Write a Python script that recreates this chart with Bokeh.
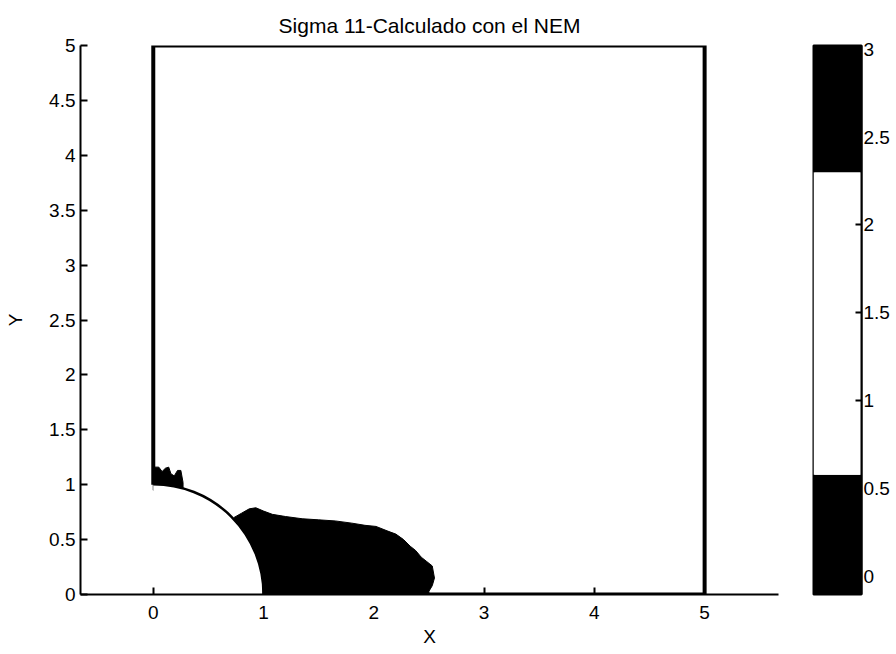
import math
from bokeh.plotting import figure
from bokeh.models import Range1d, FixedTicker
from bokeh.layouts import row
from bokeh.embed import file_html
from bokeh.resources import INLINE

# ---------------- data ----------------
title_text = "Sigma 11-Calculado con el NEM"
x_label = "X"
y_label = "Y"

x_ticks = [0, 1, 2, 3, 4, 5]
x_tick_labels = ["0", "1", "2", "3", "4", "5"]
y_ticks = [0, 0.5, 1, 1.5, 2, 2.5, 3, 3.5, 4, 4.5, 5]
y_tick_labels = ["0", "0.5", "1", "1.5", "2", "2.5", "3", "3.5", "4", "4.5", "5"]
cb_ticks = [0, 0.5, 1, 1.5, 2, 2.5, 3]
cb_tick_labels = ["0", "0.5", "1", "1.5", "2", "2.5", "3"]

# plate outline (quarter plate with a circular hole of radius 1)
plate_x = [0, 0, 5, 5, 1]
plate_y = [1, 5, 5, 0, 0]
hole_radius = 1.0

# region where sigma11 is low (black band 0 .. 0.58)
low_x = [0.90, 0.85, 0.70, 0.73, 0.80, 0.87, 0.93, 1.00, 1.08, 1.20, 1.35,
         1.50, 1.65, 1.80, 1.92, 2.02, 2.12, 2.20, 2.27, 2.33, 2.38, 2.43,
         2.48, 2.53, 2.55, 2.53, 2.50, 2.50]
low_y = [0.00, 0.30, 0.60, 0.70, 0.74, 0.78, 0.79, 0.76, 0.73, 0.71, 0.69,
         0.68, 0.67, 0.65, 0.63, 0.62, 0.58, 0.55, 0.50, 0.44, 0.40, 0.34,
         0.30, 0.26, 0.15, 0.08, 0.03, 0.00]

# region where sigma11 is high (black band 2.3 .. 3)
high_x = [0.00, 0.00, 0.05, 0.08, 0.11, 0.14, 0.16, 0.19, 0.22, 0.25, 0.27, 0.27]
high_y = [0.95, 1.16, 1.16, 1.12, 1.15, 1.16, 1.10, 1.08, 1.13, 1.13, 1.02, 0.90]

# colour bar bands
band_lo = [-0.1, 0.58, 2.3]
band_hi = [0.58, 2.3, 3.02]
band_color = ["black", "white", "black"]

FONT = "Liberation Sans"

# ---------------- main plot ----------------
p = figure(width=800, height=654, x_range=Range1d(-0.66, 5.67), y_range=Range1d(0, 5),
           output_backend="svg", toolbar_location=None, title=title_text,
           min_border_left=80, min_border_right=22, min_border_top=45, min_border_bottom=60)
p.grid.visible = False
p.outline_line_color = None
p.background_fill_color = "white"
p.border_fill_color = "white"

p.title.text_font = FONT
p.title.text_font_size = "21px"
p.title.text_font_style = "normal"
p.title.text_color = "black"
p.title.align = "center"
p.title.standoff = 18

p.patch(low_x, low_y, fill_color="black", line_color="black", line_width=1)
p.patch(high_x, high_y, fill_color="black", line_color="black", line_width=1)
p.wedge(x=0, y=0, radius=hole_radius, start_angle=0, end_angle=math.pi / 2,
        fill_color="white", line_color=None)
p.arc(x=0, y=0, radius=hole_radius, start_angle=0, end_angle=math.pi / 2,
      line_color="black", line_width=2.5)
p.line(plate_x, plate_y, line_color="black", line_width=4, line_join="miter")

for ax in (p.xaxis[0], p.yaxis[0]):
    ax.axis_line_width = 2
    ax.major_tick_line_width = 2
    ax.major_tick_in = 7
    ax.major_tick_out = 0
    ax.minor_tick_line_color = None
    ax.major_label_text_font = FONT
    ax.major_label_text_font_size = "19px"
    ax.major_label_text_color = "black"
    ax.axis_label_text_font = FONT
    ax.axis_label_text_font_size = "19px"
    ax.axis_label_text_font_style = "normal"
    ax.axis_label_text_color = "black"

p.xaxis.ticker = FixedTicker(ticks=x_ticks)
p.xaxis.major_label_overrides = dict(zip(x_ticks, x_tick_labels))
p.xaxis.axis_label = x_label
p.xaxis.major_label_standoff = 11
p.xaxis.axis_label_standoff = 4

p.yaxis.ticker = FixedTicker(ticks=y_ticks)
p.yaxis.major_label_overrides = dict(zip(y_ticks, y_tick_labels))
p.yaxis.axis_label = y_label
p.yaxis.major_label_standoff = 5
p.yaxis.axis_label_standoff = 20

# ---------------- colour bar ----------------
cb = figure(width=96, height=654, x_range=Range1d(0, 1), y_range=Range1d(-0.1, 3.02),
            output_backend="svg", toolbar_location=None, y_axis_location="right",
            min_border_left=13, min_border_right=35, min_border_top=43, min_border_bottom=55)
cb.grid.visible = False
cb.xaxis.visible = False
cb.outline_line_color = "black"
cb.outline_line_width = 2
cb.quad(left=0, right=1, bottom=band_lo, top=band_hi, fill_color=band_color, line_color=None)

cax = cb.yaxis[0]
cax.ticker = FixedTicker(ticks=cb_ticks)
cax.major_label_overrides = dict(zip(cb_ticks, cb_tick_labels))
cax.axis_line_width = 2
cax.major_tick_line_width = 2
cax.major_tick_in = 6
cax.major_tick_out = 0
cax.minor_tick_line_color = None
cax.major_label_standoff = 2
cax.major_label_text_font = FONT
cax.major_label_text_font_size = "19px"
cax.major_label_text_color = "black"

layout = row(p, cb)
open("out.html", "w").write(file_html(layout, INLINE))
